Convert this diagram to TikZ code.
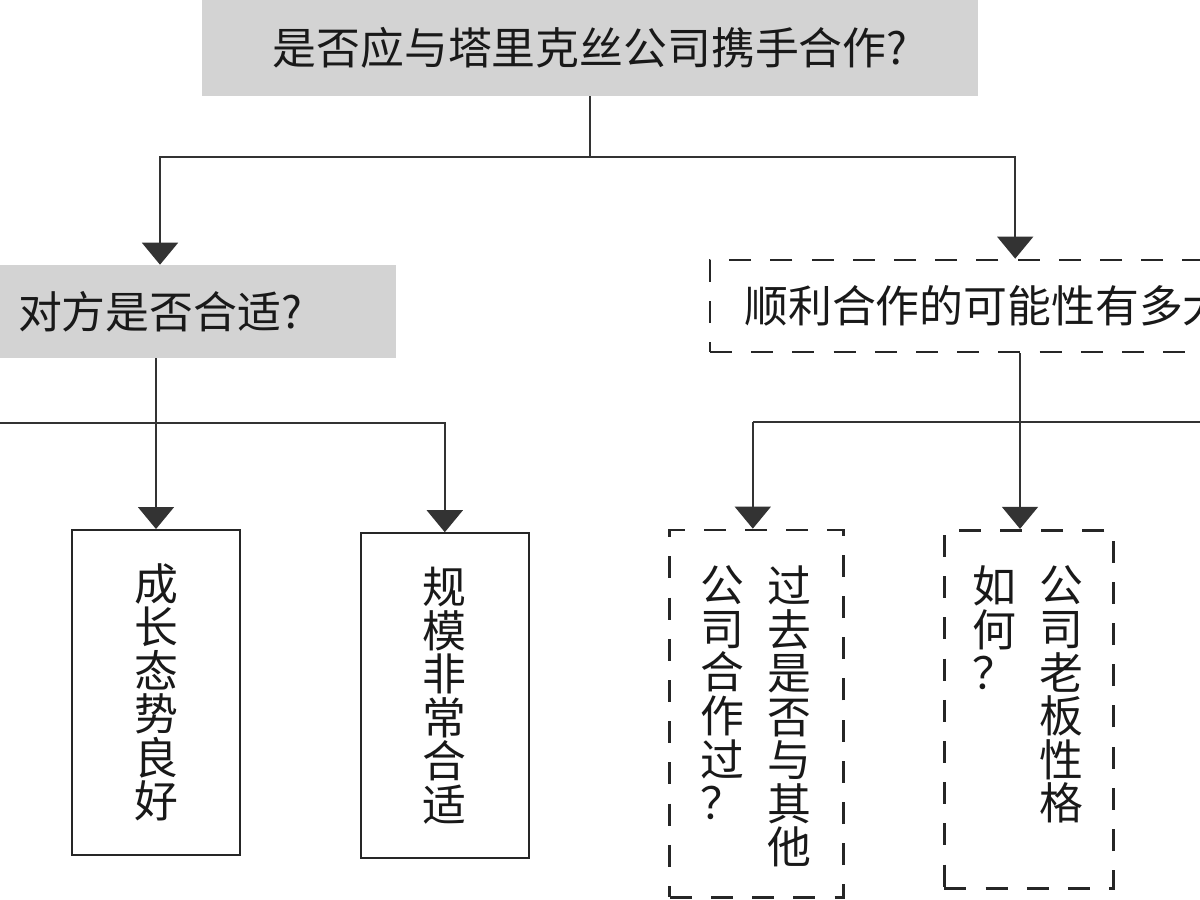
\documentclass[tikz,border=0pt]{standalone}
\usepackage{fontspec}
\setmainfont{Noto Sans CJK SC}
\usepackage{xcolor}
\usetikzlibrary{arrows.meta}
\definecolor{boxgray}{RGB}{211,211,211}

\begin{document}
\begin{tikzpicture}[font=\fontsize{31.2}{31}\selectfont,
 gbox/.style={fill=boxgray,inner sep=0pt,text=black!90},
 sbox/.style={draw=black!85,line width=1.1pt,inner sep=0pt,align=center,text=black!90},
 dbox/.style={draw=black!85,line width=1.9pt,dash pattern=on 0.55cm off 0.48cm,inner sep=0pt,text=black!90},
 vtxt/.style={align=center,inner sep=0pt,anchor=north,text=black!90},
 ln/.style={draw=black!80,line width=1.1pt},
 arr/.style={ln,-{Triangle[width=9mm,length=5.5mm]}}]
\useasboundingbox (0,0) rectangle (30,-22.5);
\clip (0,0) rectangle (30,-22.5);
\node[gbox,minimum width=19.4cm,minimum height=2.4cm] (q0) at (14.75,-1.2) {是否应与塔里克丝公司携手合作?};
\node[gbox,minimum width=11.8cm,minimum height=2.33cm] (q1) at (4.0,-7.79) {对方是否合适?};
\node[dbox,minimum width=14.3cm,minimum height=2.3cm] (q2) at (24.9,-7.65) {顺利合作的可能性有多大?};
\node[sbox,minimum width=4.2cm,minimum height=8.13cm] (a1) at (3.9,-17.31) {成\\长\\态\\势\\良\\好};
\node[sbox,minimum width=4.2cm,minimum height=8.13cm] (a2) at (11.12,-17.39) {规\\模\\非\\常\\合\\适};
\node[dbox,minimum width=4.35cm,minimum height=9.18cm] (b1) at (18.92,-17.84) {};
\node[dbox,minimum width=4.22cm,minimum height=8.95cm] (b2) at (25.72,-17.73) {};
\node[vtxt] (b1r) at ([xshift=0.82cm,yshift=-0.92cm]b1.north) {过\\去\\是\\否\\与\\其\\他};
\node[vtxt] (b1l) at ([xshift=-0.85cm,yshift=-0.92cm]b1.north) {公\\司\\合\\作\\过\\？};
\node[vtxt] (b2r) at ([xshift=0.82cm,yshift=-0.92cm]b2.north) {公\\司\\老\\板\\性\\格};
\node[vtxt] (b2l) at ([xshift=-0.85cm,yshift=-0.92cm]b2.north) {如\\何\\？};
\coordinate (j0) at (14.75,-3.93);
\coordinate (j1) at (-3,-10.58);
\coordinate (j2) at (32,-10.55);
\draw[ln] (q0.south) -- (j0);
\draw[arr] (j0) -| (q1.north);
\draw[arr] (j0) -| ([xshift=0.48cm]q2.north);
\draw[arr] (a1.north |- q1.south) -- (a1.north);
\draw[arr] (j1) -| (a2.north);
\draw[arr] ([xshift=-0.22cm]b2.north |- q2.south) -- ([xshift=-0.22cm]b2.north);
\draw[ln] ([xshift=-0.1cm]b1.north |- j2) -- (j2);
\draw[arr] ([xshift=-0.1cm]b1.north |- j2) -- ([xshift=-0.1cm]b1.north);
\end{tikzpicture}
\end{document}
